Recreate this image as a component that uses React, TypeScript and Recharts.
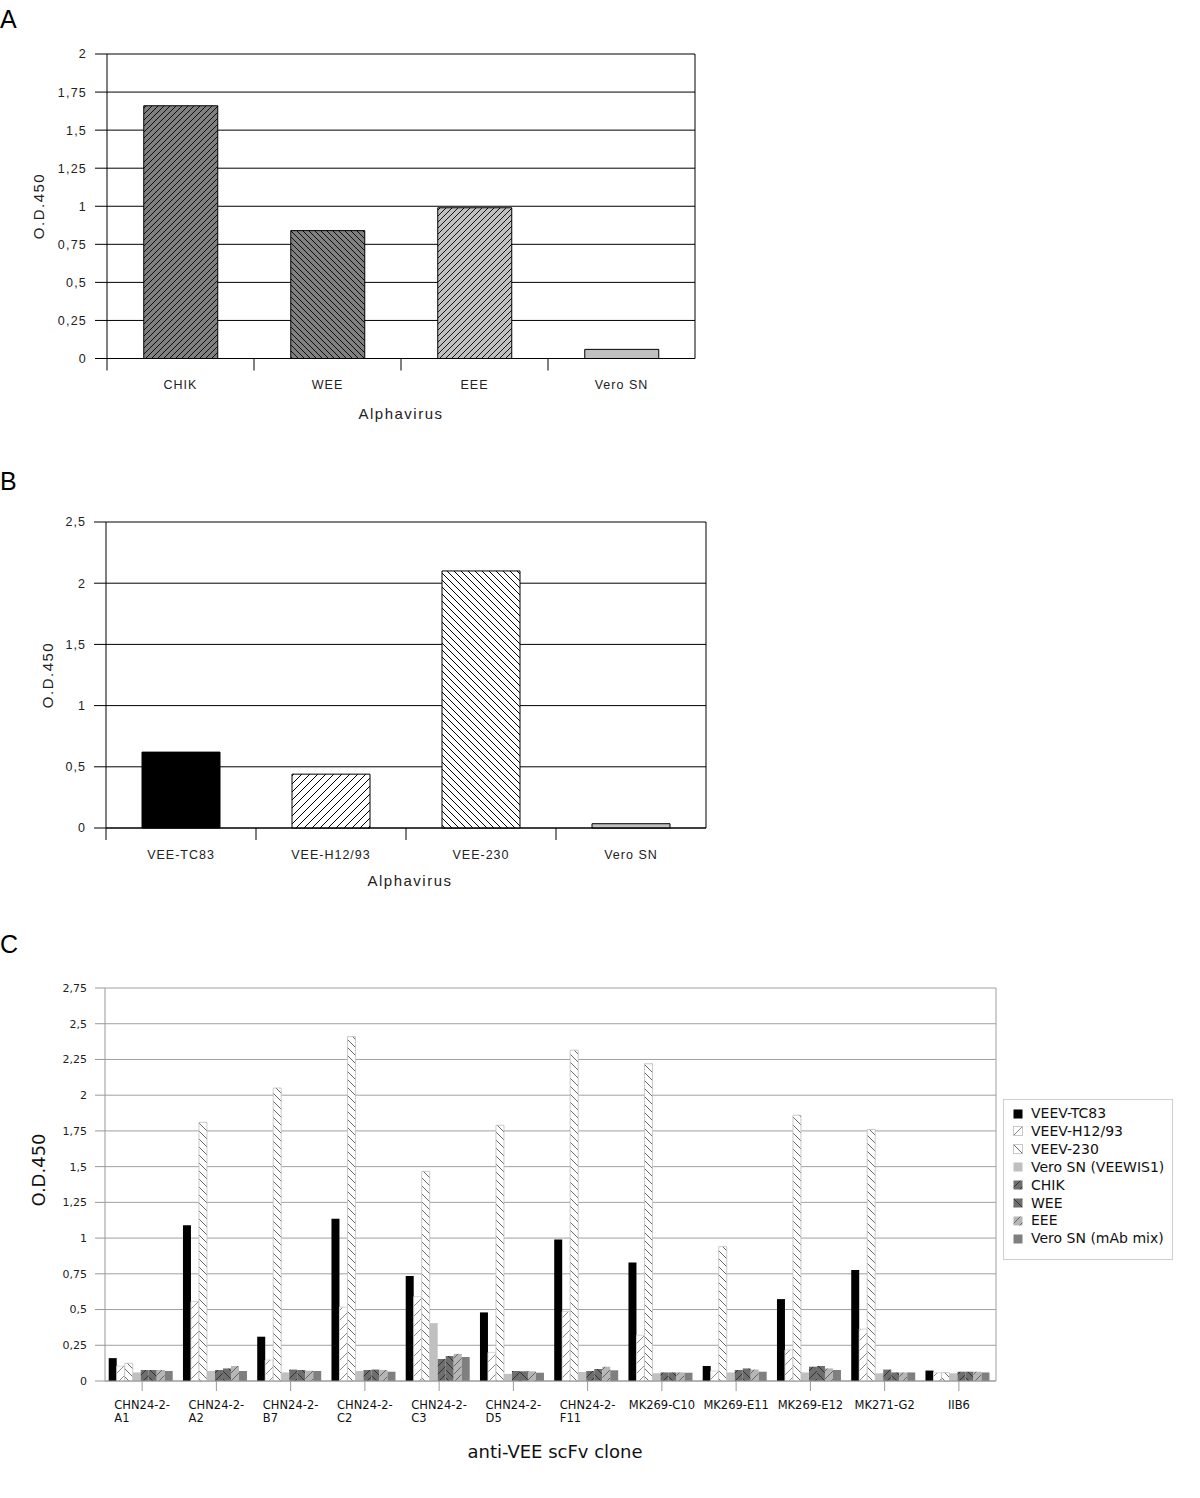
import React from 'react';
import { BarChart, Bar, XAxis, YAxis, CartesianGrid, Cell } from 'recharts';

// ---------- DATA ----------
const catsA = ['CHIK', 'WEE', 'EEE', 'Vero SN'];
const valsA = [1.66, 0.84, 0.99, 0.06];
const ticksA = [0, 0.25, 0.5, 0.75, 1, 1.25, 1.5, 1.75, 2];

const catsB = ['VEE-TC83', 'VEE-H12/93', 'VEE-230', 'Vero SN'];
const valsB = [0.62, 0.44, 2.1, 0.035];
const ticksB = [0, 0.5, 1, 1.5, 2, 2.5];

const catsC = [
  'CHN24-2-A1', 'CHN24-2-A2', 'CHN24-2-B7', 'CHN24-2-C2', 'CHN24-2-C3', 'CHN24-2-D5',
  'CHN24-2-F11', 'MK269-C10', 'MK269-E11', 'MK269-E12', 'MK271-G2', 'IIB6',
];
const ticksC = [0, 0.25, 0.5, 0.75, 1, 1.25, 1.5, 1.75, 2, 2.25, 2.5, 2.75];
const seriesNamesC = [
  'VEEV-TC83', 'VEEV-H12/93', 'VEEV-230', 'Vero SN (VEEWIS1)',
  'CHIK', 'WEE', 'EEE', 'Vero SN (mAb mix)',
];
const tc83 = [0.16, 1.09, 0.31, 1.135, 0.735, 0.48, 0.99, 0.83, 0.105, 0.573, 0.777, 0.073];
const h1293 = [0.105, 0.556, 0.147, 0.517, 0.59, 0.2, 0.486, 0.32, 0.07, 0.218, 0.363, 0.058];
const v230 = [0.124, 1.81, 2.05, 2.41, 1.467, 1.79, 2.315, 2.22, 0.94, 1.86, 1.76, 0.058];
const veroWis = [0.06, 0.07, 0.06, 0.07, 0.405, 0.05, 0.063, 0.054, 0.06, 0.06, 0.054, 0.054];
const chik = [0.077, 0.077, 0.08, 0.077, 0.154, 0.07, 0.07, 0.06, 0.077, 0.1, 0.08, 0.065];
const wee = [0.077, 0.088, 0.077, 0.08, 0.175, 0.068, 0.084, 0.06, 0.088, 0.105, 0.06, 0.065];
const eee = [0.077, 0.105, 0.072, 0.077, 0.19, 0.068, 0.1, 0.06, 0.08, 0.088, 0.06, 0.065];
const veroMab = [0.07, 0.07, 0.07, 0.065, 0.168, 0.058, 0.075, 0.058, 0.065, 0.077, 0.06, 0.06];

const seriesValsC = [tc83, h1293, v230, veroWis, chik, wee, eee, veroMab];
const keysC = ['s0', 's1', 's2', 's3', 's4', 's5', 's6', 's7'];

const dataA = catsA.map((name, i) => ({ name, v: valsA[i] }));
const dataB = catsB.map((name, i) => ({ name, v: valsB[i] }));
const dataC = catsC.map((name, i) => {
  const row: any = { name };
  keysC.forEach((k, s) => (row[k] = seriesValsC[s][i]));
  return row;
});

// ---------- STYLE ----------
const FONT_AB = '"Liberation Sans", Arial, sans-serif';
const FONT_C = '"DejaVu Sans", Verdana, sans-serif';
const fmt = (v: number) => String(v).replace('.', ',');

const fillsA = ['url(#pA_chik)', 'url(#pA_wee)', 'url(#pA_eee)', '#c0c0c0'];
const fillsB = ['#000000', 'url(#pB_h12)', 'url(#pB_230)', '#c0c0c0'];
const styleC = [
  { fill: '#000000', stroke: 'none' },
  { fill: 'url(#pC_h12)', stroke: '#cfcfcf' },
  { fill: 'url(#pC_230)', stroke: '#bdbdbd' },
  { fill: '#c0c0c0', stroke: 'none' },
  { fill: 'url(#pC_chik)', stroke: 'none' },
  { fill: 'url(#pC_wee)', stroke: 'none' },
  { fill: 'url(#pC_eee)', stroke: 'none' },
  { fill: '#7f7f7f', stroke: 'none' },
];

// layout
const A_PLOT = { left: 107, right: 695, top: 54, bottom: 358.5 };
const B_TOP = 460;
const B_PLOT = { left: 106, right: 706, top: 522, bottom: 828 };
const C_TOP = 940;
const C_PLOT = { left: 105, right: 996, top: 988, bottom: 1381 };

const slash = (s: number) => `M0,${s} L${s},0 M-1,1 L1,-1 M${s - 1},${s + 1} L${s + 1},${s - 1}`;
const back = (s: number) => `M0,0 L${s},${s} M-1,${s - 1} L1,${s + 1} M${s - 1},-1 L${s + 1},1`;

const Pat = ({ id, s, bg, d, stroke, sw }: any) => (
  <pattern id={id} patternUnits="userSpaceOnUse" width={s} height={s}>
    <rect x={0} y={0} width={s} height={s} fill={bg} />
    <path d={d} stroke={stroke} strokeWidth={sw} fill="none" />
  </pattern>
);

const Defs = () => (
  <svg width={0} height={0} style={{ position: 'absolute', left: 0, top: 0 }}>
    <defs>
      <Pat id="pA_chik" s={6} bg="#808080" d={slash(6)} stroke="#000" sw={0.9} />
      <Pat id="pA_wee" s={6} bg="#808080" d={back(6)} stroke="#000" sw={0.9} />
      <Pat id="pA_eee" s={6} bg="#c0c0c0" d={slash(6)} stroke="#000" sw={0.9} />
      <Pat id="pB_h12" s={8} bg="#ffffff" d={slash(8)} stroke="#000" sw={1} />
      <Pat id="pB_230" s={7} bg="#ffffff" d={back(7)} stroke="#000" sw={1} />
      <Pat id="pC_h12" s={10} bg="#ffffff" d={slash(10)} stroke="#8a8a8a" sw={1} />
      <Pat id="pC_230" s={8} bg="#ffffff" d={back(8)} stroke="#6a6a6a" sw={1} />
      <Pat id="pC_chik" s={8} bg="#6e6e6e" d={slash(8)} stroke="#333" sw={1} />
      <Pat id="pC_wee" s={8} bg="#6e6e6e" d={back(8)} stroke="#333" sw={1} />
      <Pat id="pC_eee" s={8} bg="#b6b6b6" d={slash(8)} stroke="#666" sw={1} />
    </defs>
  </svg>
);

const rightBorder = (props: any) => {
  const o = props.offset;
  return [o.left + o.width];
};

// tick for A and B: label at center, tick line between categories
const makeBandTick = (band: number, axisY: number, dy: number) => (props: any) => {
  const { x, payload } = props;
  return (
    <g>
      <line x1={x - band / 2} x2={x - band / 2} y1={axisY} y2={axisY + 12} stroke="#000" strokeWidth={1} />
      <text x={x} y={axisY + dy} textAnchor="middle" fontFamily={FONT_AB} fontSize={12.5} letterSpacing={1} fill="#222">
        {payload.value}
      </text>
    </g>
  );
};

const TickC = (props: any) => {
  const { x, payload } = props;
  const name: string = payload.value;
  const axisY = C_PLOT.bottom - C_TOP;
  const lines = name.startsWith('CHN24-2-') ? ['CHN24-2-', name.slice(8)] : [name];
  return (
    <g>
      <line x1={x} x2={x} y1={axisY} y2={axisY + 10} stroke="#999" strokeWidth={1} />
      {lines.length === 2 ? (
        <text fontFamily={FONT_C} fontSize={11.5} fill="#111">
          <tspan x={x - 27.8} y={axisY + 28}>{lines[0]}</tspan>
          <tspan x={x - 27.8} y={axisY + 41}>{lines[1]}</tspan>
        </text>
      ) : (
        <text x={x} y={axisY + 28} textAnchor="middle" fontFamily={FONT_C} fontSize={11.5} fill="#111">
          {lines[0]}
        </text>
      )}
    </g>
  );
};

const PanelA = () => {
  const w = 720, h = 440, xh = 40;
  const band = (A_PLOT.right - A_PLOT.left) / catsA.length;
  return (
    <div style={{ position: 'absolute', left: 0, top: 0 }}>
      <BarChart width={w} height={h} data={dataA} barCategoryGap="25%"
        margin={{ top: A_PLOT.top, right: w - A_PLOT.right, left: 0, bottom: h - A_PLOT.bottom - xh }}>
        <CartesianGrid stroke="#000" strokeWidth={1} vertical={true} verticalCoordinatesGenerator={rightBorder} />
        <XAxis dataKey="name" height={xh} tickLine={false} axisLine={{ stroke: '#000' }} interval={0}
          tick={makeBandTick(band, A_PLOT.bottom, 30)} />
        <YAxis type="number" domain={[0, 2]} ticks={ticksA} width={A_PLOT.left} interval={0}
          tickSize={12} tickMargin={8} axisLine={{ stroke: '#000' }} tickLine={{ stroke: '#000' }}
          tickFormatter={fmt}
          tick={{ fontSize: 12.5, fill: '#222', fontFamily: FONT_AB, letterSpacing: 1.2 }} />
        <Bar dataKey="v" stroke="#000" strokeWidth={1} isAnimationActive={false}>
          {dataA.map((d, i) => <Cell key={d.name} fill={fillsA[i]} />)}
        </Bar>
      </BarChart>
    </div>
  );
};

const PanelB = () => {
  const w = 740, h = 440, xh = 40;
  const band = (B_PLOT.right - B_PLOT.left) / catsB.length;
  const bottomLocal = B_PLOT.bottom - B_TOP;
  return (
    <div style={{ position: 'absolute', left: 0, top: B_TOP }}>
      <BarChart width={w} height={h} data={dataB} barCategoryGap="24%"
        margin={{ top: B_PLOT.top - B_TOP, right: w - B_PLOT.right, left: 0, bottom: h - bottomLocal - xh }}>
        <CartesianGrid stroke="#000" strokeWidth={1} vertical={true} verticalCoordinatesGenerator={rightBorder} />
        <XAxis dataKey="name" height={xh} tickLine={false} axisLine={{ stroke: '#000' }} interval={0}
          tick={makeBandTick(band, bottomLocal, 30.5)} />
        <YAxis type="number" domain={[0, 2.5]} ticks={ticksB} width={B_PLOT.left} interval={0}
          tickSize={12} tickMargin={8} axisLine={{ stroke: '#000' }} tickLine={{ stroke: '#000' }}
          tickFormatter={fmt}
          tick={{ fontSize: 12.5, fill: '#222', fontFamily: FONT_AB, letterSpacing: 1 }} />
        <Bar dataKey="v" stroke="#000" strokeWidth={1} isAnimationActive={false}>
          {dataB.map((d, i) => <Cell key={d.name} fill={fillsB[i]} />)}
        </Bar>
      </BarChart>
    </div>
  );
};

const PanelC = () => {
  const w = 1200, h = 540, xh = 60;
  const bottomLocal = C_PLOT.bottom - C_TOP;
  return (
    <div style={{ position: 'absolute', left: 0, top: C_TOP }}>
      <BarChart width={w} height={h} data={dataC} barCategoryGap="5%" barGap={0}
        margin={{ top: C_PLOT.top - C_TOP, right: w - C_PLOT.right, left: 0, bottom: h - bottomLocal - xh }}>
        <CartesianGrid stroke="#a0a0a0" strokeWidth={1} vertical={true} verticalCoordinatesGenerator={rightBorder} />
        <XAxis dataKey="name" height={xh} tickLine={false} axisLine={{ stroke: '#999' }} interval={0}
          tick={<TickC />} />
        <YAxis type="number" domain={[0, 2.75]} ticks={ticksC} width={C_PLOT.left} interval={0}
          tickSize={10} tickMargin={8} axisLine={{ stroke: '#999' }} tickLine={{ stroke: '#999' }}
          tickFormatter={fmt}
          tick={{ fontSize: 11, fill: '#222', fontFamily: FONT_C }} />
        {keysC.map((k, s) => (
          <Bar key={k} dataKey={k} name={seriesNamesC[s]} fill={styleC[s].fill} stroke={styleC[s].stroke}
            strokeWidth={0.8} isAnimationActive={false} />
        ))}
      </BarChart>
    </div>
  );
};

const LegendC = () => (
  <div style={{
    position: 'absolute', left: 1003, top: 1099, width: 170, height: 161,
    border: '1px solid #cfcfcf', boxSizing: 'border-box', fontFamily: FONT_C, fontSize: 14, color: '#111',
  }}>
    {seriesNamesC.map((n, s) => (
      <div key={n} style={{ position: 'absolute', left: 9, top: 8 + s * 17.9, height: 11, display: 'flex', alignItems: 'center', whiteSpace: 'nowrap' }}>
        <svg width={10} height={10} style={{ display: 'block' }}>
          <rect x={0.5} y={0.5} width={9} height={9} fill={styleC[s].fill}
            stroke={styleC[s].stroke === 'none' ? 'none' : '#c8c8c8'} strokeWidth={1} />
        </svg>
        <span style={{ marginLeft: 8, lineHeight: '11px' }}>{n}</span>
      </div>
    ))}
  </div>
);

const Overlay = () => (
  <svg width={1200} height={1498} style={{ position: 'absolute', left: 0, top: 0, pointerEvents: 'none' }}>
    <text x={0} y={28} fontFamily={FONT_AB} fontSize={25} fill="#000">A</text>
    <text x={0} y={490} fontFamily={FONT_AB} fontSize={25} fill="#000">B</text>
    <text x={0} y={953} fontFamily={FONT_AB} fontSize={25} fill="#000">C</text>

    <text x={401} y={419} textAnchor="middle" fontFamily={FONT_AB} fontSize={15} letterSpacing={1.5} fill="#222">Alphavirus</text>
    <text x={38} y={206} textAnchor="middle" dominantBaseline="central" transform="rotate(-90 38 206)"
      fontFamily={FONT_AB} fontSize={15} letterSpacing={1.5} fill="#222">O.D.450</text>

    <text x={410} y={886} textAnchor="middle" fontFamily={FONT_AB} fontSize={15} letterSpacing={1.5} fill="#222">Alphavirus</text>
    <text x={47} y={675} textAnchor="middle" dominantBaseline="central" transform="rotate(-90 47 675)"
      fontFamily={FONT_AB} fontSize={15} letterSpacing={1.5} fill="#222">O.D.450</text>

    <text x={555} y={1458} textAnchor="middle" fontFamily={FONT_C} fontSize={18} fill="#111">anti-VEE scFv clone</text>
    <text x={38} y={1170} textAnchor="middle" dominantBaseline="central" transform="rotate(-90 38 1170)"
      fontFamily={FONT_C} fontSize={18} fill="#111">O.D.450</text>
  </svg>
);

export default function App() {
  return (
    <div style={{ position: 'absolute', left: 0, top: 0, width: 1200, height: 1498, background: '#fff', overflow: 'hidden' }}>
      <Defs />
      <PanelA />
      <PanelB />
      <PanelC />
      <LegendC />
      <Overlay />
    </div>
  );
}
